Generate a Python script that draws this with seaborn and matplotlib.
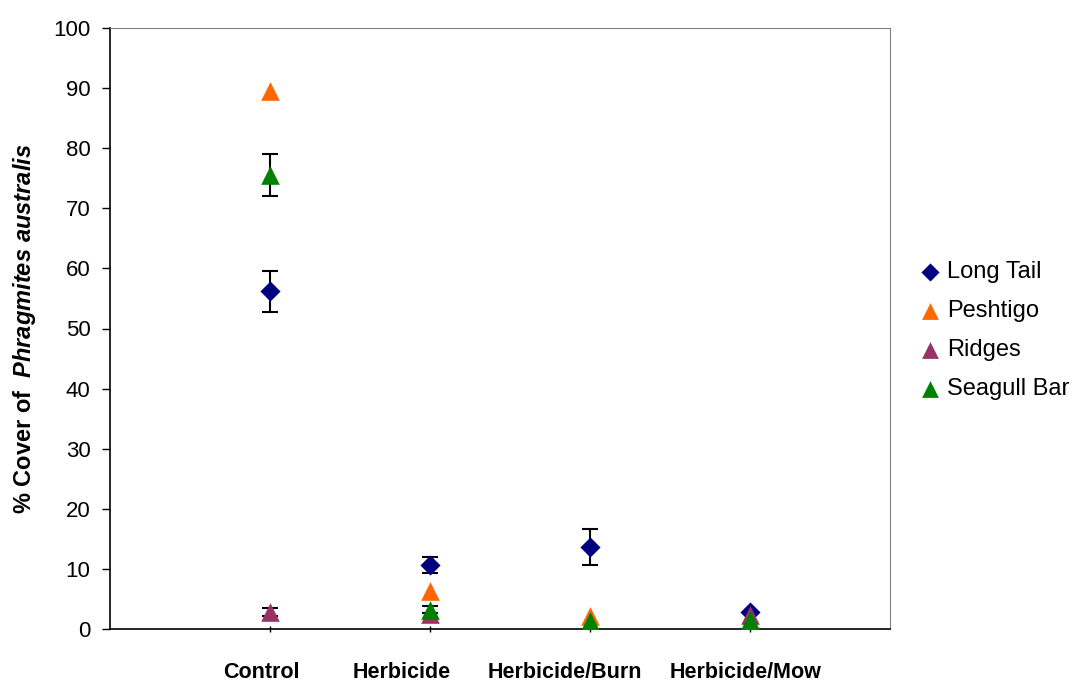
import numpy as np
import pandas as pd
import matplotlib
matplotlib.use("Agg")
import matplotlib.pyplot as plt
import seaborn as sns

# treatments along the x axis
treatments = ['Control', 'Herbicide', 'Herbicide/Burn', 'Herbicide/Mow']
sites = ['Long Tail', 'Peshtigo', 'Ridges', 'Seagull Bar']

# mean % cover per site (one value per treatment)
long_tail = [56.2, 10.6, 13.6, 2.8]
peshtigo = [89.5, 6.3, 2.2, 0.3]
ridges = [2.8, 2.5, 0.1, 2.3]
seagull_bar = [75.5, 3.2, 1.3, 1.5]

# standard error (0 where no bar is visible)
long_tail_err = [3.4, 1.3, 3.0, 0.0]
peshtigo_err = [0.0, 0.0, 0.0, 0.0]
ridges_err = [0.7, 0.0, 0.0, 0.0]
seagull_bar_err = [3.5, 0.6, 0.0, 0.0]

means = [long_tail, peshtigo, ridges, seagull_bar]
errs = [long_tail_err, peshtigo_err, ridges_err, seagull_bar_err]

rows = []
for site, m, e in zip(sites, means, errs):
    for i, t in enumerate(treatments):
        rows.append({'Site': site, 'Treatment': t, 'pos': i + 1,
                     'Cover': m[i], 'SE': e[i]})
df = pd.DataFrame(rows)

sns.set_style("ticks", {'axes.grid': False, 'axes.facecolor': 'white',
                        'axes.edgecolor': 'black'})
plt.rcParams['font.family'] = ['Liberation Sans', 'DejaVu Sans']
plt.rcParams['mathtext.fontset'] = 'custom'
plt.rcParams['mathtext.it'] = 'Liberation Sans:italic:bold'
plt.rcParams['mathtext.rm'] = 'Liberation Sans:bold'
for key in ['text.color', 'axes.labelcolor', 'xtick.color', 'ytick.color']:
    plt.rcParams[key] = 'black'

colors = {'Long Tail': '#000080', 'Peshtigo': '#FF6600',
          'Ridges': '#993366', 'Seagull Bar': '#008000'}
markers = {'Long Tail': 'D', 'Peshtigo': '^', 'Ridges': '^', 'Seagull Bar': '^'}
msize = {'Long Tail': 105, 'Peshtigo': 180, 'Ridges': 180, 'Seagull Bar': 180}

fig = plt.figure(figsize=(10.72, 6.84), dpi=100)
ax = fig.add_axes([110 / 1072, 55 / 684, 780 / 1072, 601 / 684])

for k, site in enumerate(sites):
    sub = df[df['Site'] == site]
    has = sub[sub['SE'] > 0]
    ax.errorbar(has['pos'], has['Cover'], yerr=has['SE'], fmt='none',
                ecolor='black', elinewidth=1.5, capsize=6, capthick=1.5,
                zorder=2 + k * 2)
    sns.scatterplot(data=sub, x='pos', y='Cover', ax=ax, color=colors[site],
                    marker=markers[site], s=msize[site], linewidth=0,
                    label=site, zorder=3 + k * 2)

ax.set_xlim(0, 4.875)
ax.set_ylim(0, 100)
ax.set_yticks(np.arange(0, 101, 10))
ax.set_xticks(range(1, 5))
ax.set_xticklabels([])
ax.tick_params(axis='x', direction='inout', length=5, width=1)
ax.tick_params(axis='y', direction='out', length=6, labelsize=16, width=1,
               pad=8)

# category labels sit as loose text boxes, a little left of each tick
label_shift = [-0.056, -0.175, -0.16, -0.025]
for i, t in enumerate(treatments):
    ax.text(i + 1 + label_shift[i], -0.072, t, transform=ax.get_xaxis_transform(),
            ha='center', va='center', fontweight='bold', fontsize=15.5)

ax.set_xlabel('')
ax.set_ylabel(r'% Cover of  $\mathit{Phragmites\ australis}$',
              fontweight='bold', fontsize=17)
ax.yaxis.set_label_coords(-0.092, 0.5)

for side in ['top', 'right']:
    ax.spines[side].set_color('#808080')
for side in ['left', 'bottom']:
    ax.spines[side].set_linewidth(1.2)

ax.legend(loc='center left', bbox_to_anchor=(1.02, 0.497), frameon=False,
          fontsize=17, handletextpad=0.05, labelspacing=0.72,
          handlelength=1.3, markerscale=0.9, borderaxespad=0)

fig.savefig('out.png', dpi=100)
